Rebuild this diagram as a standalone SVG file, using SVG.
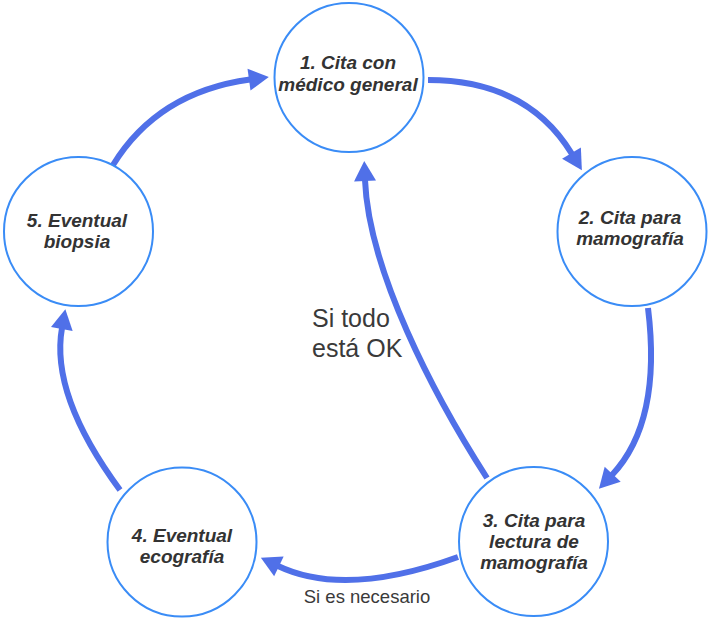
<svg xmlns="http://www.w3.org/2000/svg" width="709" height="620" viewBox="0 0 709 620">
  <defs>
    <marker id="head" markerUnits="userSpaceOnUse" viewBox="0 -11 20 22" refX="1" refY="0" markerWidth="20" markerHeight="22" orient="auto" overflow="visible">
      <path d="M0,-11 L20,0 L0,11 Z" fill="#5070e8"/>
    </marker>
  </defs>
  <style>
    .node { fill: #ffffff; stroke: #3a8cf6; stroke-width: 2; }
    .label { font-family: "Liberation Sans", Arial, sans-serif; font-size: 19px; font-weight: bold; font-style: italic; fill: #333333; text-anchor: middle; }
    .edge { fill: none; stroke: #5070e8; stroke-width: 6; marker-end: url(#head); }
    .note { font-family: "Liberation Sans", Arial, sans-serif; fill: #3a3a3a; }
  </style>
  <rect width="709" height="620" fill="#ffffff"/>

  <g id="connectors">
    <!-- 1 -> 2 -->
    <path class="edge" d="M428,80 Q527,80 572,154"/>
    <!-- 2 -> 3 -->
    <path class="edge" d="M648,308 Q662,422 612,475"/>
    <!-- 3 -> 4 -->
    <path class="edge" d="M458,557 Q345,598 278,566"/>
    <text class="note" x="367" y="603" font-size="18.5" text-anchor="middle" fill="#555555">Si es necesario</text>
    <!-- 4 -> 5 -->
    <path class="edge" d="M120,490 Q50,395 62,328"/>
    <!-- 5 -> 1 -->
    <path class="edge" d="M113,165 Q158,92 250,79.5"/>
    <!-- 3 -> 1 -->
    <path class="edge" d="M487,478 C433,394 368.6,270 365,180"/>
    <text class="note" font-size="25">
      <tspan x="312" y="327">Si todo</tspan>
      <tspan x="312" y="357">está OK</tspan>
    </text>
  </g>

  <g id="node1">
    <circle class="node" cx="349" cy="77.5" r="74.5"/>
    <text class="label"><tspan x="348" y="69">1. Cita con</tspan><tspan x="348" y="91">médico general</tspan></text>
  </g>
  <g id="node2">
    <circle class="node" cx="632" cy="231.5" r="74.5"/>
    <text class="label"><tspan x="630" y="224">2. Cita para</tspan><tspan x="630" y="245">mamografía</tspan></text>
  </g>
  <g id="node3">
    <circle class="node" cx="533.5" cy="541.5" r="74.5"/>
    <text class="label"><tspan x="534" y="527">3. Cita para</tspan><tspan x="534" y="548">lectura de</tspan><tspan x="534" y="569">mamografía</tspan></text>
  </g>
  <g id="node4">
    <circle class="node" cx="182" cy="542" r="74.5"/>
    <text class="label"><tspan x="182" y="542">4. Eventual</tspan><tspan x="182" y="563">ecografía</tspan></text>
  </g>
  <g id="node5">
    <circle class="node" cx="78.5" cy="231.5" r="74.5"/>
    <text class="label"><tspan x="77" y="227">5. Eventual</tspan><tspan x="77" y="248">biopsia</tspan></text>
  </g>
</svg>
